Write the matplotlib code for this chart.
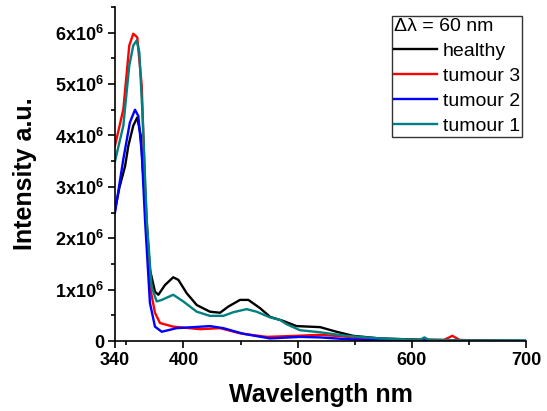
import numpy as np
import matplotlib
matplotlib.use("Agg")
import matplotlib.pyplot as plt
from matplotlib.ticker import MultipleLocator, FixedLocator

plt.rcParams['font.family'] = ['Liberation Sans', 'DejaVu Sans']
plt.rcParams['mathtext.fontset'] = 'custom'
plt.rcParams['mathtext.rm'] = 'Liberation Sans'
plt.rcParams['mathtext.bf'] = 'Liberation Sans:bold'

# synchronous spectra, intensity in units of 1e6
wl_healthy = [340, 344, 348.8, 351.7, 356, 359.5, 362.5, 366.3, 370.6, 375, 378, 383.8,
              391, 395.5, 402.8, 411.6, 423.2, 432, 439.3, 449.5, 456.8, 467, 475.8,
              487.4, 499, 519.6, 534, 548.7, 572, 601, 650, 700]
healthy = [2.55, 3.0, 3.4, 3.8, 4.19, 4.35, 4.0, 2.7, 1.39, 0.96, 0.9, 1.09,
           1.24, 1.19, 0.93, 0.70, 0.57, 0.55, 0.67, 0.80, 0.80, 0.64, 0.47,
           0.39, 0.29, 0.27, 0.18, 0.10, 0.05, 0.03, 0.01, 0.0]

wl_t3 = [340, 347.3, 352.5, 356, 359.5, 363.4, 366.3, 370.6, 375, 379.4, 390.8, 414.5,
         432, 449.5, 472.8, 498, 520, 540, 560, 600, 628, 635.5, 642, 660, 700]
tumour3 = [3.80, 4.51, 5.75, 5.98, 5.91, 4.97, 3.0, 1.06, 0.55, 0.35, 0.28, 0.23,
           0.25, 0.15, 0.08, 0.10, 0.12, 0.09, 0.04, 0.02, 0.02, 0.10, 0.02, 0.01, 0.0]

wl_t2 = [340, 347.3, 353, 357.5, 360.4, 363.4, 366.3, 370.6, 375, 380.9, 394, 423.2,
         434.9, 452.4, 475.8, 502, 519.6, 540, 560, 600, 650, 700]
tumour2 = [2.50, 3.54, 4.25, 4.50, 4.38, 3.67, 2.36, 0.74, 0.28, 0.18, 0.25, 0.29,
           0.25, 0.14, 0.05, 0.08, 0.07, 0.04, 0.02, 0.01, 0.0, 0.0]

wl_t1 = [340, 347.3, 352.5, 356, 359, 361.3, 364.3, 367.8, 372, 376.5, 381, 391,
         399.8, 411.6, 423, 435, 443.6, 455.3, 464, 475.8, 484.5, 490, 502, 519.6,
         543, 572, 607, 611, 615, 650, 700]
tumour1 = [3.50, 4.19, 5.36, 5.75, 5.85, 5.62, 4.32, 2.36, 1.06, 0.77, 0.80, 0.90,
           0.77, 0.57, 0.49, 0.49, 0.56, 0.62, 0.57, 0.46, 0.41, 0.33, 0.21, 0.17,
           0.10, 0.05, 0.02, 0.07, 0.02, 0.01, 0.01]

series = [
    (wl_healthy, healthy, 'black', 'healthy'),
    (wl_t3, tumour3, '#ff0000', 'tumour 3'),
    (wl_t2, tumour2, '#0000ff', 'tumour 2'),
    (wl_t1, tumour1, '#008080', 'tumour 1'),
]

fig = plt.figure(figsize=(5.47, 4.11), dpi=100)
ax = fig.add_axes([115 / 547, 1 - 341 / 411, 411 / 547, 334 / 411])

for wl, vals, col, lab in series:
    ax.plot(wl, np.array(vals) * 1e6, color=col, lw=1.7, label=lab)

ax.set_xlim(340, 700)
ax.set_ylim(0, 6.5e6)
ax.xaxis.set_major_locator(FixedLocator([340, 400, 500, 600, 700]))
ax.xaxis.set_minor_locator(FixedLocator([350, 450, 550, 650]))
ax.yaxis.set_major_locator(MultipleLocator(1e6))
ax.yaxis.set_minor_locator(MultipleLocator(0.5e6))
ylabels = ['0'] + [r'$\mathbf{%dx10^{%d}}$' % (i, 6) for i in range(1, 7)]
ax.set_yticks([i * 1e6 for i in range(7)])
ax.set_yticklabels(ylabels)

for s in ['top', 'right']:
    ax.spines[s].set_visible(False)
for s in ['left', 'bottom']:
    ax.spines[s].set_linewidth(1.2)
ax.tick_params(which='major', direction='out', length=5, width=1.2, labelsize=13, pad=3)
ax.tick_params(which='minor', direction='out', length=3, width=1.2)
for t in ax.get_xticklabels() + ax.get_yticklabels():
    t.set_fontweight('bold')

ax.set_xlabel('Wavelength nm', fontsize=18, fontweight='bold', labelpad=10)
ax.set_ylabel('Intensity a.u.', fontsize=18, fontweight='bold', labelpad=13)

leg = ax.legend(loc='upper left', bbox_to_anchor=(277 / 411, 1 - 9 / 334),
                title='Δλ = 60 nm', fontsize=14, title_fontsize=14,
                alignment='left', frameon=True, fancybox=False,
                handlelength=2.2, handletextpad=0.3, borderpad=0.1,
                borderaxespad=0, labelspacing=0.38)
leg.get_frame().set_edgecolor('black')
leg.get_frame().set_linewidth(1.0)

fig.savefig('out.png', dpi=100)
